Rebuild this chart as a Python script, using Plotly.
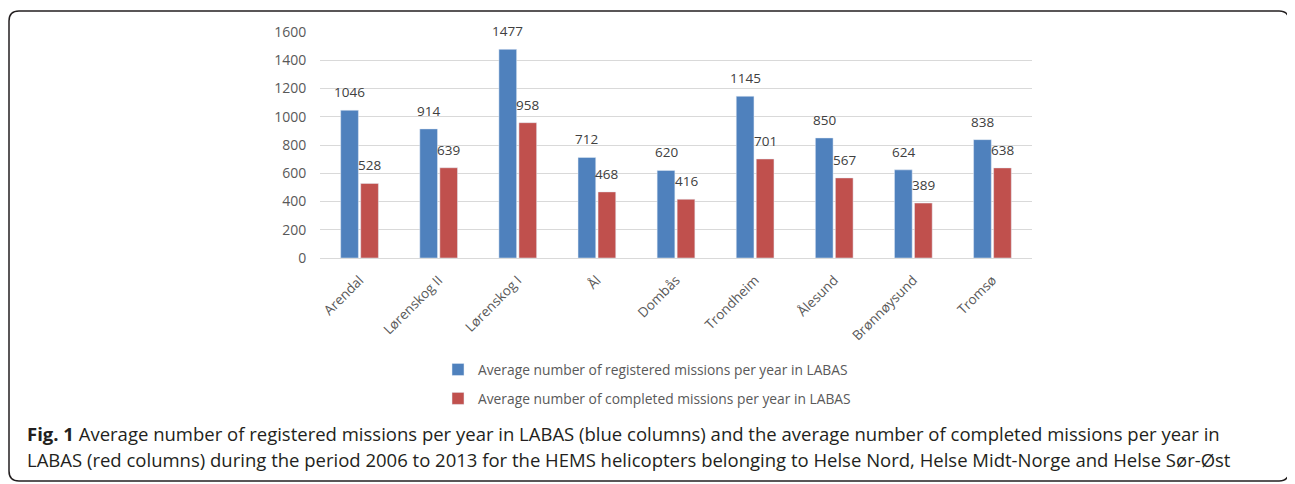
import plotly.graph_objects as go

categories = ["Arendal", "Lørenskog II", "Lørenskog I", "Ål", "Dombås",
              "Trondheim", "Ålesund", "Brønnøysund", "Tromsø"]
registered = [1046, 914, 1477, 712, 620, 1145, 850, 624, 838]
completed = [528, 639, 958, 468, 416, 701, 567, 389, 638]
name_reg = "Average number of registered missions per year in LABAS"
name_com = "Average number of completed missions per year in LABAS"
y_ticks = [0, 200, 400, 600, 800, 1000, 1200, 1400, 1600]

# page has an 8px body margin: figure coords = page coords - 8
OFF = 8
W, H = 1295 - OFF, 484 - OFF
PL, PR, PT, PB = 320, 1032, 32, 258  # plot area in page pixels


def px(x):
    return (x - PL) / (PR - PL)


def py(y):
    return (PB - y) / (PB - PT)


BLUE = "#4F81BD"
RED = "#C0504D"
FONT = "Open Sans, Liberation Sans, sans-serif"
TXT = "#595959"

fig = go.Figure()
fig.add_trace(go.Bar(x=categories, y=registered, name=name_reg, marker_color=BLUE,
                     legendgroup="a"))
fig.add_trace(go.Bar(x=categories, y=completed, name=name_com, marker_color=RED,
                     legendgroup="b"))

annotations = []
for cat, v in zip(categories, registered):
    annotations.append(dict(x=cat, y=v, xref="x", yref="y", text=str(v), showarrow=False,
                            xshift=-10, yshift=7, yanchor="bottom",
                            font=dict(family=FONT, size=13.5, color="#404040")))
for cat, v in zip(categories, completed):
    annotations.append(dict(x=cat, y=v, xref="x", yref="y", text=str(v), showarrow=False,
                            xshift=10, yshift=7, yanchor="bottom",
                            font=dict(family=FONT, size=13.5, color="#404040")))

CAP_FONT = "Open Sans, sans-serif"
annotations.append(dict(x=px(25), y=py(433), xref="paper", yref="paper", xanchor="left",
                        yanchor="middle", showarrow=False, align="left",
                        text="<b>Fig. 1</b> Average number of registered missions per year in LABAS (blue columns) and the average number of completed missions per year in",
                        font=dict(family=CAP_FONT, size=18.5, color="#231f20")))
annotations.append(dict(x=px(25), y=py(459), xref="paper", yref="paper", xanchor="left",
                        yanchor="middle", showarrow=False, align="left",
                        text="LABAS (red columns) during the period 2006 to 2013 for the HEMS helicopters belonging to Helse Nord, Helse Midt-Norge and Helse Sør-Øst",
                        font=dict(family=CAP_FONT, size=18.5, color="#231f20")))

# rounded border box (page pixels)
x0, x1, y0, y1, r = 9, 1289, 11, 481, 10


def P(x, y):
    return f"{px(x)},{py(y)}"


path = (f"M {P(x0 + r, y0)} L {P(x1 - r, y0)} Q {P(x1, y0)} {P(x1, y0 + r)} "
        f"L {P(x1, y1 - r)} Q {P(x1, y1)} {P(x1 - r, y1)} "
        f"L {P(x0 + r, y1)} Q {P(x0, y1)} {P(x0, y1 - r)} "
        f"L {P(x0, y0 + r)} Q {P(x0, y0)} {P(x0 + r, y0)} Z")

fig.update_layout(
    width=W, height=H,
    margin=dict(l=PL - OFF, r=W - (PR - OFF), t=PT - OFF, b=H - (PB - OFF), pad=0),
    paper_bgcolor="white", plot_bgcolor="white",
    barmode="group", bargap=0.494, bargroupgap=0.115,
    showlegend=True,
    legend=dict(x=px(438), y=py(354), xanchor="left", yanchor="top",
                orientation="v", traceorder="grouped", tracegroupgap=8,
                font=dict(family=FONT, size=13.8, color=TXT),
                itemwidth=30, bgcolor="rgba(0,0,0,0)"),
    annotations=annotations,
    shapes=[dict(type="path", path=path, xref="paper", yref="paper",
                 line=dict(color="#231f20", width=1.5), layer="above")],
    xaxis=dict(tickangle=-45, tickfont=dict(family=FONT, size=13.5, color=TXT),
               showline=True, linecolor="#d9d9d9", linewidth=1,
               ticks="outside", ticklen=8, tickcolor="rgba(0,0,0,0)",
               showgrid=False, range=[-0.5, 8.5]),
    yaxis=dict(range=[0, 1600], tickvals=y_ticks, ticktext=[str(v) for v in y_ticks],
               tickfont=dict(family=FONT, size=14, color=TXT),
               showgrid=True, gridcolor="#d9d9d9", gridwidth=1, zeroline=False,
               showline=False, ticks="outside", ticklen=10, tickcolor="rgba(0,0,0,0)"),
)

fig.write_html("out.html")
